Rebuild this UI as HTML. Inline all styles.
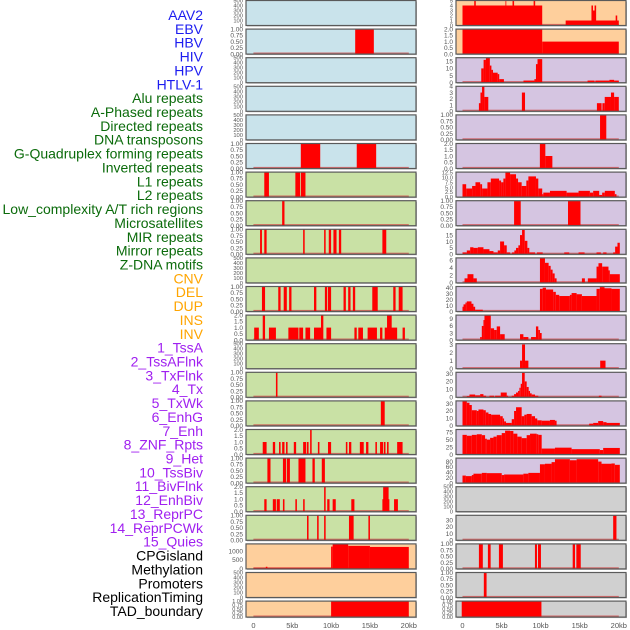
<!DOCTYPE html>
<html><head><meta charset="utf-8">
<style>
html,body{margin:0;padding:0;background:#fff;}
svg{display:block;font-family:"Liberation Sans",sans-serif;}
</style></head>
<body>
<svg id="chart" width="630" height="630" viewBox="0 0 630 630" xmlns="http://www.w3.org/2000/svg">
<g id="labels"></g>
<g id="panels"></g>
<g id="xaxes"></g>
</svg>
<script>
// ---------- data ----------
const trackLabels = ["AAV2","EBV","HBV","HIV","HPV","HTLV-1","Alu repeats","A-Phased repeats","Directed repeats","DNA transposons","G-Quadruplex forming repeats","Inverted repeats","L1 repeats","L2 repeats","Low_complexity A/T rich regions","Microsatellites","MIR repeats","Mirror repeats","Z-DNA motifs","CNV","DEL","DUP","INS","INV","1_TssA","2_TssAFlnk","3_TxFlnk","4_Tx","5_TxWk","6_EnhG","7_Enh","8_ZNF_Rpts","9_Het","10_TssBiv","11_BivFlnk","12_EnhBiv","13_ReprPC","14_ReprPCWk","15_Quies","CPGisland","Methylation","Promoters","ReplicationTiming","TAD_boundary"];
const labelGroups = [6,13,5,15,5];
const groupColors = ["#1c1cf0","#0b6b0b","#ffa500","#a020f0","#000000"];
const xTickValues = [0,5,10,15,20];
const xTickLabels = ["0","5kb","10kb","15kb","20kb"];

// middle column segments [startKb, endKb, value]
const m0 = [], m2 = [], m3 = [], m4 = [], m9 = [], m12 = [], m20 = [];
const m1 = [[13.1,15.5,1]];
const m5 = [[6.1,8.6,1],[13.3,15.8,1]];
const m6 = [[1.4,2.0,1],[5.4,6.0,1],[6.1,6.7,1]];
const m7 = [[3.7,4.0,1]];
const m8 = [[0.86,1.1,1],[1.4,1.7,1],[6.4,6.6,1],[9.1,9.3,1],[9.7,10.0,1],[10.3,10.7,1],[11.0,11.3,1],[16.6,17.1,1]];
const m10 = [[1.1,1.5,1],[3.2,3.5,1],[3.9,4.3,1],[4.6,4.9,1],[7.8,8.1,1],[9.2,9.5,1],[9.6,10.0,1],[11.6,11.9,1],[12.2,12.5,1],[12.8,13.1,1],[15.3,16.0,1],[18.0,18.3,1],[18.7,19.2,1]];
const m11 = [[0.1,0.7,1],[1.2,1.5,2],[2.0,2.9,1],[4.5,5.8,1],[5.9,6.4,1],[6.7,7.3,1],[7.8,8.7,1],[8.7,9.0,2],[9.4,10.0,1],[13.0,13.3,1],[13.5,14.1,1],[14.7,15.9,1],[16.3,16.6,1],[16.9,18.5,1],[17.2,17.8,2],[19.2,19.5,1]];
const m13 = [[2.9,3.1,1]];
const m14 = [[16.4,16.9,1]];
const m15 = [[1.2,1.7,1],[2.5,2.8,1],[3.3,3.5,1],[3.7,4.0,1],[4.2,4.4,1],[5.2,5.5,1],[6.4,6.8,1],[6.9,7.1,1],[7.3,7.5,2],[8.3,8.5,1],[9.6,10.0,1],[11.9,12.1,1],[12.3,12.6,1],[13.7,14.2,1],[14.5,14.8,1],[15.7,15.9,1],[16.3,16.7,1],[16.8,17.0,1],[17.2,17.4,1],[18.5,19.2,1]];
const m16 = [[1.8,2.2,1],[3.8,4.2,1],[4.3,4.7,1],[5.8,6.7,1],[7.6,7.9,1],[8.8,9.2,1]];
const m17 = [[1.4,1.7,1],[2.5,2.9,1],[3.0,3.4,1],[3.8,4.0,1],[5.4,5.6,1],[6.4,6.6,1],[9.1,9.3,2],[9.5,9.8,1],[10.2,10.6,1],[12.6,13.0,1],[16.6,17.5,1],[16.7,17.4,2],[18.1,18.6,1]];
const m18 = [[6.9,7.1,1],[8.2,8.4,1],[9.1,9.3,1],[12.3,12.9,1],[14.8,15.0,1]];
const m19 = [[0,10,60],[1.6,1.8,120],[10,10.2,1250],[10.2,12.2,1370],[12.2,15,1290],[15,20,1230]];
const m21 = [[10,20,1]];

// right column segments
const r0 = [[0,10.2,4],[1.5,1.7,5],[5.5,5.6,5],[6.4,6.6,5],[9.1,9.3,5],[13.2,20,1],[16.5,16.7,4],[16.6,17.0,3],[16.9,17.1,4],[19.6,19.8,2]];
const r1 = [[0,10.2,2],[10.2,20,1]];
const r2 = [[2.4,2.7,10],[2.7,3.0,16],[3.0,3.5,17.5],[3.5,3.7,12],[3.7,3.9,9],[3.9,4.5,7],[4.5,4.7,6],[4.7,5.3,2.5],[7.8,9.2,1.5],[9.2,9.4,2.5],[9.4,9.6,13],[9.6,10.2,16.5],[16.0,16.9,1.5],[17.0,18.8,1.5],[18.8,19.4,2],[19.4,20,1.5]];
const r3 = [[2.1,2.3,1.3],[2.3,2.5,3],[2.5,2.8,4],[2.8,3.3,2.3],[7.6,8.0,3],[17.2,17.8,1.3],[17.9,18.2,1.3],[18.2,19.0,2.3],[19.0,19.4,3],[19.4,20,2.3]];
const r4 = [[17.6,18.4,1]];
const r5 = [[9.9,10.6,2],[10.6,11.5,1]];
const r6 = [[0,0.47,6.6],[0.47,1.23,4.4],[1.23,1.66,5.7],[1.66,2.26,7.6],[2.26,2.51,6.6],[2.51,3.19,4.4],[3.19,3.62,7.6],[3.62,4.68,9.5],[4.68,4.94,8.5],[4.94,5.23,7.6],[5.23,5.49,9.5],[5.49,6.09,12.8],[6.09,6.85,11.7],[6.85,7.11,9.5],[7.11,7.57,7.6],[7.57,8.17,5.7],[8.17,8.43,8.5],[8.43,9.4,10.6],[9.4,9.7,9.5],[9.7,10.2,4.4],[10.2,10.34,1.5],[10.34,11.19,2.3],[11.19,13.32,3.2],[13.32,14.85,2.3],[14.85,16.3,3.2],[16.3,16.72,2.3],[16.72,17.49,3.2],[17.49,17.87,1.1],[17.87,18.21,2.3],[18.21,19.49,3.2],[19.49,19.7,1.5]];
const r7 = [[6.6,7.45,1],[13.5,15.1,1]];
const r8 = [[0,0.55,1.5],[0.55,0.98,3],[0.98,1.4,5.5],[1.4,1.96,5],[1.96,2.68,5.5],[2.68,3.45,4],[3.45,3.96,2.5],[3.96,4.51,1.5],[4.51,4.81,3],[4.81,5.32,10],[5.32,5.66,7],[5.66,6.09,1.5],[6.34,6.64,1.5],[6.64,6.85,3],[6.85,7.15,5],[7.15,7.36,7],[7.36,7.62,15],[7.62,7.96,19],[7.96,8.3,10.5],[8.3,8.55,5],[8.55,9.28,1.5],[9.53,10.26,1.5],[13.02,13.66,1.5],[14.85,15.62,1.5],[17.15,17.7,1.5],[18.0,18.43,1.5],[19.28,19.53,1.5],[19.53,19.83,6],[19.83,20.13,9]];
const r9 = [[0.26,0.64,1.2],[0.64,1.4,2.3],[1.4,1.83,1.2],[9.91,10.55,6.5],[10.55,11.02,5.3],[11.02,11.28,4.5],[11.28,11.53,3.5],[11.53,11.79,2.5],[11.79,12.04,1.2],[15.28,15.66,1.2],[16.04,17.15,1.2],[17.15,17.4,4.3],[17.4,17.87,5.2],[17.87,18.68,4.3],[18.68,18.85,3.3],[18.85,20.13,2.3]];
const r10 = [[0,0.13,8],[0.13,0.38,12],[0.38,0.55,15],[0.55,1.15,17],[1.15,1.4,13],[1.4,1.62,8],[1.62,2.6,3],[9.91,10.26,38],[10.26,10.68,40],[10.68,11.6,37],[11.6,11.94,33],[11.94,12.38,28],[12.38,13.74,26],[13.74,13.96,28],[13.96,14.6,31],[14.6,15.28,29],[15.28,17.15,26],[17.15,17.57,38],[17.57,18.17,41],[18.17,19.06,39],[19.06,20.13,38]];
const r11 = [[2.26,2.47,1.3],[2.47,2.68,6],[2.68,2.81,8.5],[2.81,3.62,10.4],[3.62,4.04,5],[4.04,4.38,4.3],[4.38,4.81,5.8],[4.81,5.4,2.5],[7.36,7.79,2.5],[7.79,8.43,1.3],[8.77,9.4,1.3],[9.4,9.7,5.8],[9.7,9.91,4.3],[9.91,10.13,3]];
const r12 = [[7.36,7.62,1],[7.62,8.0,3],[8.0,8.43,1],[17.62,18.3,1]];
const r13 = [[0.55,0.89,1.5],[0.89,1.62,3.5],[1.62,2.26,2.5],[2.26,2.68,4],[2.68,3.02,2],[3.45,4.04,2],[4.17,4.89,2],[4.89,5.66,6],[5.66,5.83,2],[6.3,6.6,2],[6.6,6.85,4],[6.85,7.11,6],[7.11,7.28,8],[7.28,7.45,12],[7.45,7.62,17],[7.62,7.96,31],[7.96,8.21,20],[8.21,8.47,13],[8.47,8.64,8],[8.64,8.85,5],[8.85,9.28,3.5],[9.28,9.7,2],[17.45,17.79,2]];
const r14 = [[0,0.55,33],[0.55,0.89,31],[0.89,1.19,28],[1.19,1.83,21],[1.83,2.04,20],[2.04,2.68,22],[2.68,2.98,21],[2.98,3.32,18],[3.32,3.66,16],[3.66,4.81,15],[4.81,5.15,13],[5.15,5.32,10],[5.32,5.57,6],[5.57,6.3,4],[6.3,6.6,9],[6.6,6.85,20],[6.85,7.57,25],[7.57,7.91,13],[7.91,8.21,15],[8.21,8.85,16],[8.85,9.28,13],[9.28,9.57,10],[9.57,10.13,7.5],[10.13,11.19,7],[11.19,11.83,8],[11.83,12.04,7],[16.21,16.72,3],[16.72,17.36,4],[17.36,18.0,6.5],[18.0,18.43,5],[18.43,20.13,4]];
const r15 = [[0,0.55,66],[0.55,1.19,63],[1.19,1.83,66],[1.83,2.47,68],[2.47,2.89,65],[2.89,3.11,53],[3.11,3.53,50],[3.53,3.96,56],[3.96,4.38,60],[4.38,5.02,65],[5.02,5.45,72],[5.45,6.09,80],[6.09,6.51,79],[6.51,7.02,70],[7.02,7.57,60],[7.57,8.21,55],[8.21,8.64,65],[8.64,9.49,70],[9.49,9.7,68],[9.7,10.13,66],[10.13,11.83,20],[11.83,13.96,23],[13.96,17.57,18],[17.57,18.0,15],[18.0,20.13,22]];
const r16 = [[0,0.43,28],[0.43,1.19,26],[1.19,1.4,30],[1.4,2.47,35],[2.47,3.11,38],[3.11,5.02,37],[5.02,5.32,30],[5.32,7.79,32],[7.79,8.43,35],[8.43,9.91,38],[9.91,10.55,70],[10.55,11.4,72],[11.4,11.83,78],[11.83,13.74,89],[13.74,14.6,85],[14.6,17.36,89],[17.36,17.79,80],[17.79,19.06,72],[19.06,19.49,73],[19.49,20.13,68]];
const r17 = [];
const r18 = [[19.28,19.7,37]];
const r19 = [[2.1,2.6,1],[3.25,3.6,1],[4.66,5.17,1],[9.27,9.53,1],[9.66,10.04,1],[14.1,14.4,1],[14.57,15.13,1]];
const r20 = [[2.73,3.08,1]];
const r21 = [[-0.1,10.1,1]];

const midSeries = [m0,m1,m2,m3,m4,m5,m6,m7,m8,m9,m10,m11,m12,m13,m14,m15,m16,m17,m18,m19,m20,m21];
const rightSeries = [r0,r1,r2,r3,r4,r5,r6,r7,r8,r9,r10,r11,r12,r13,r14,r15,r16,r17,r18,r19,r20,r21];
const midYMax = [500,1,500,500,500,1,1,1,1,500,1,2,500,1,1,2,1,2,1,1400,500,1];
const rightYMax = [5,2,17.5,4,1,2,12.8,1,19.5,6.6,42,10.6,3.1,31.5,33.5,84,93,500,37,1,1,1];
const midTicks = [null,null,null,null,null,null,null,null,null,null,null,null,null,null,null,null,null,null,null,[0,500,1000],null,null];
const rightTicks = [[0,1,2,3,4,5],null,[0,5,10,15],[0,1,2,3,4],null,null,[0,2.5,5,7.5,10,12.5],null,[0,5,10,15],[0,2,4,6],[0,10,20,30,40],[0,3,6,9],[0,1,2,3],[0,10,20,30],[0,10,20,30],[0,25,50,75],[0,20,40,60,80],null,[0,10,20,30],null,null,null];
const midBg = ["#c9e3eb","#c9e3eb","#c9e3eb","#c9e3eb","#c9e3eb","#c9e3eb","#c9e1a5","#c9e1a5","#c9e1a5","#c9e1a5","#c9e1a5","#c9e1a5","#c9e1a5","#c9e1a5","#c9e1a5","#c9e1a5","#c9e1a5","#c9e1a5","#c9e1a5","#fecf9c","#fecf9c","#fecf9c"];
const rightBg = ["#fecf9c","#fecf9c","#d5c5e1","#d5c5e1","#d5c5e1","#d5c5e1","#d5c5e1","#d5c5e1","#d5c5e1","#d5c5e1","#d5c5e1","#d5c5e1","#d5c5e1","#d5c5e1","#d5c5e1","#d5c5e1","#d5c5e1","#d0d0d0","#d0d0d0","#d0d0d0","#d0d0d0","#d0d0d0"];

// ---------- layout ----------
const NS = "http://www.w3.org/2000/svg";
const cols = [
  {left:246, right:416, x0:253.4, x20:408.8, series:midSeries, ymax:midYMax, ticks:midTicks, bg:midBg},
  {left:456, right:626, x0:462.5, x20:618.8, series:rightSeries, ymax:rightYMax, ticks:rightTicks, bg:rightBg}
];
function rowTop(i){ return 0.5 + i*28.6; }
function rowH(i){ return i === 21 ? 16 : 25; }
function mk(tag, attrs, parent){
  const e = document.createElementNS(NS, tag);
  for (const k in attrs) e.setAttribute(k, attrs[k]);
  parent.appendChild(e);
  return e;
}
function defaultTicks(ymax){
  if (ymax === 1) return [0,0.25,0.5,0.75,1];
  if (ymax === 2) return [0,0.5,1,1.5,2];
  if (ymax === 500) return [0,100,200,300,400,500];
  return [0, ymax];
}
function fmt(v, ticks){
  const mx = Math.max(...ticks);
  if (mx === 1) return v.toFixed(2);
  if (mx === 2) return v.toFixed(1);
  if (ticks.some(t => t % 1 !== 0)) return v.toFixed(1);
  return String(v);
}

// labels
const labG = document.getElementById('labels');
let li = 0;
labelGroups.forEach((n, g) => {
  for (let k = 0; k < n; k++) {
    const t = mk('text', {x:203, y:(15 + li*13.86 + 5).toFixed(1), 'text-anchor':'end', 'font-size':'14', fill:groupColors[g]}, labG);
    t.textContent = trackLabels[li];
    
    
    li++;
  }
});

// panels
const panG = document.getElementById('panels');
cols.forEach(c => {
  const sx = kb => c.x0 + (c.x20 - c.x0) * kb / 20;
  for (let i = 0; i < 22; i++) {
    const top = rowTop(i), h = rowH(i), bot = top + h;
    const ymax = c.ymax[i];
    const sy = v => bot - (v / ymax) * h;
    const g = mk('g', {}, panG);
    
    
    mk('rect', {x:c.left+1, y:top+1, width:c.right-c.left, height:h, fill:'#bbbbbb'}, g);
    const bgr = mk('rect', {x:c.left, y:top, width:c.right-c.left, height:h, fill:c.bg[i]}, g);
    
    
    const segs = c.series[i];
    if (segs.length) {
      const bl = mk('rect', {x:sx(0), y:bot-1.6, width:sx(20)-sx(0), height:1.4, fill:'#cc4444', opacity:0.75}, g);
      
      
    }
    segs.forEach(s => {
      const y = Math.max(top, sy(s[2]));
      const b = mk('rect', {x:sx(s[0]).toFixed(2), y:y.toFixed(2), width:Math.max(0.8, sx(s[1]) - sx(s[0])).toFixed(2), height:(bot - y).toFixed(2), fill:'#ff0000'}, g);
      
      
    });
    mk('rect', {x:c.left, y:top, width:c.right-c.left, height:h, fill:'none', stroke:'#5a5a5a', 'stroke-width':1.2}, g);
    const tks = c.ticks[i] || defaultTicks(ymax);
    const fs = h < 20 ? 5.5 : (tks.length > 5 ? 5.8 : 6.5);
    tks.forEach(v => {
      const t = mk('text', {x:c.left-3, y:(sy(v) + fs*0.35).toFixed(1), 'text-anchor':'end', 'font-size':fs, fill:'#555'}, g);
      t.textContent = fmt(v, tks);
      
      
    });
  }
  const xg = document.getElementById('xaxes');
  xTickValues.forEach((v, k) => {
    const t = mk('text', {x:sx(v).toFixed(1), y:628, 'text-anchor':'middle', 'font-size':7.5, fill:'#555'}, xg);
    t.textContent = xTickLabels[k];
    
    
  });
});
</script>
</body></html>
